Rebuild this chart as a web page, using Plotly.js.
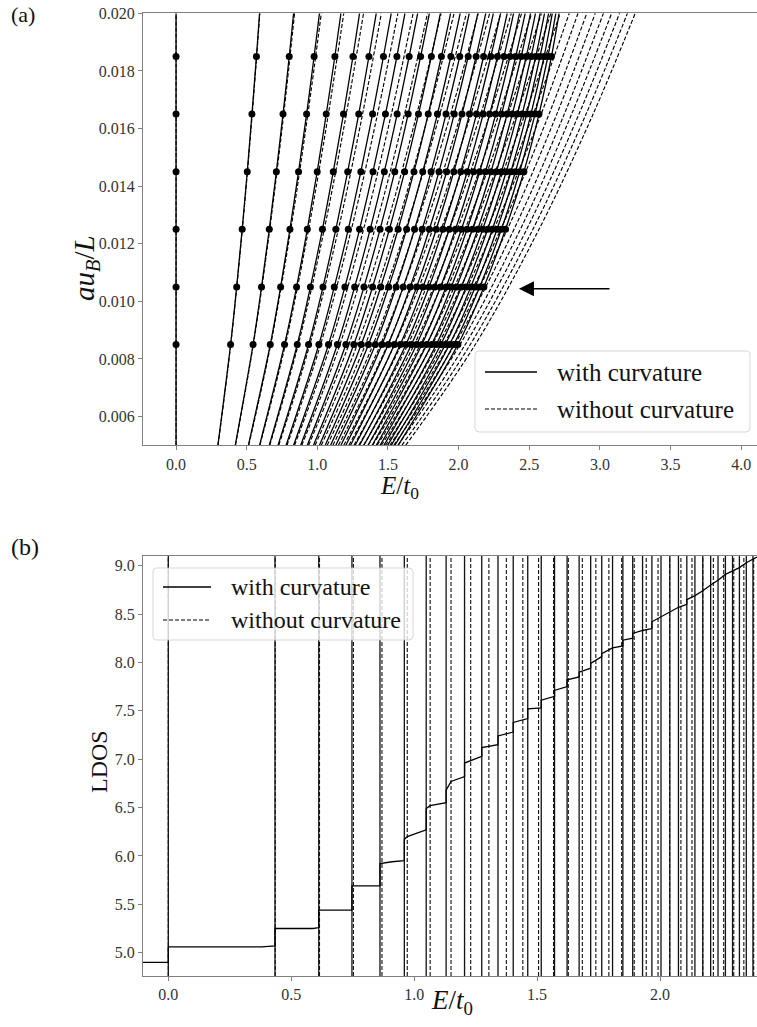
<!DOCTYPE html>
<html><head><meta charset="utf-8">
<script src="https://cdn.plot.ly/plotly-3.0.1.min.js"></script>
<style>html,body{margin:0;padding:0;background:#fff}#chart{width:757px;height:1027px}</style>
</head><body><div id="chart"></div>
<script>
// ---------- Panel (a): Landau levels vs a u_B / L ----------
// "with curvature" curves: E/t0 of levels n = 0..30 at each field value
const solidFields = [0.005, 0.0085, 0.0105, 0.0125, 0.0145, 0.0165, 0.0185, 0.020];
const solidE_0050 = [0,0.296,0.419,0.512,0.591,0.660,0.722,0.779,0.832,0.882,0.929,0.973,1.015,1.056,1.094,1.131,1.167,1.202,1.235,1.268,1.299,1.330,1.359,1.388,1.417,1.444,1.471,1.497,1.523,1.548,1.572];
const solidE_0085 = [0,0.386,0.545,0.667,0.768,0.858,0.938,1.011,1.079,1.142,1.202,1.258,1.311,1.362,1.411,1.458,1.502,1.545,1.587,1.627,1.666,1.703,1.740,1.775,1.809,1.842,1.874,1.906,1.936,1.966,1.995];
const solidE_0105 = [0,0.429,0.605,0.740,0.853,0.951,1.040,1.120,1.195,1.264,1.330,1.391,1.449,1.505,1.558,1.608,1.657,1.703,1.748,1.791,1.832,1.872,1.911,1.948,1.985,2.020,2.053,2.086,2.118,2.149,2.179];
const solidE_0125 = [0,0.468,0.660,0.806,0.929,1.036,1.131,1.219,1.299,1.374,1.444,1.510,1.572,1.632,1.688,1.742,1.793,1.842,1.889,1.934,1.978,2.020,2.060,2.098,2.136,2.171,2.206,2.239,2.272,2.303,2.332];
const solidE_0145 = [0,0.504,0.710,0.867,0.999,1.113,1.215,1.308,1.394,1.474,1.548,1.618,1.684,1.746,1.805,1.861,1.915,1.966,2.015,2.061,2.106,2.149,2.190,2.229,2.267,2.303,2.337,2.370,2.402,2.432,2.462];
const solidE_0165 = [0,0.537,0.757,0.924,1.063,1.185,1.293,1.391,1.482,1.565,1.643,1.716,1.785,1.850,1.911,1.969,2.024,2.077,2.127,2.174,2.220,2.263,2.304,2.343,2.380,2.416,2.450,2.482,2.512,2.541,2.569];
const solidE_0185 = [0,0.569,0.801,0.977,1.124,1.252,1.365,1.468,1.563,1.650,1.731,1.807,1.878,1.945,2.008,2.068,2.124,2.177,2.228,2.275,2.321,2.364,2.404,2.443,2.479,2.513,2.546,2.576,2.605,2.632,2.657];
const solidE_0200 = [0,0.591,0.832,1.015,1.167,1.299,1.417,1.523,1.620,1.710,1.793,1.871,1.943,2.011,2.075,2.136,2.192,2.246,2.297,2.344,2.389,2.431,2.471,2.509,2.544,2.577,2.608,2.637,2.663,2.688,2.711];
// rows that carry the computed points (dots)
const dotRowIndex = [1, 2, 3, 4, 5, 6];

// "without curvature" curves: E/t0 of levels n = 0..30
const dashedFields = [0.005, 0.0085, 0.0125, 0.0165, 0.020];
const dashedE_0050 = [0,0.297,0.420,0.514,0.593,0.663,0.727,0.785,0.839,0.890,0.938,0.984,1.028,1.070,1.110,1.149,1.187,1.223,1.259,1.293,1.327,1.359,1.391,1.423,1.453,1.483,1.513,1.541,1.570,1.598,1.625];
const dashedE_0085 = [0,0.387,0.547,0.670,0.774,0.865,0.947,1.023,1.094,1.160,1.223,1.283,1.340,1.395,1.447,1.498,1.547,1.595,1.641,1.686,1.730,1.772,1.814,1.855,1.895,1.934,1.972,2.010,2.047,2.083,2.118];
const dashedE_0125 = [0,0.469,0.663,0.812,0.938,1.049,1.149,1.241,1.327,1.407,1.483,1.556,1.625,1.691,1.755,1.817,1.876,1.934,1.990,2.045,2.098,2.149,2.200,2.249,2.298,2.345,2.392,2.437,2.482,2.526,2.569];
const dashedE_0165 = [0,0.539,0.762,0.933,1.078,1.205,1.320,1.426,1.524,1.617,1.704,1.787,1.867,1.943,2.016,2.087,2.156,2.222,2.286,2.349,2.410,2.470,2.528,2.584,2.640,2.695,2.748,2.800,2.852,2.902,2.952];
const dashedE_0200 = [0,0.593,0.839,1.028,1.187,1.327,1.453,1.570,1.678,1.780,1.876,1.968,2.055,2.139,2.220,2.298,2.373,2.446,2.517,2.586,2.653,2.719,2.783,2.845,2.907,2.967,3.025,3.083,3.139,3.195,3.250];

const arrowTarget = {E: 2.427, field: 0.01044};

// ---------- Panel (b): LDOS ----------
const levelsWithCurv = [0,0.434,0.612,0.747,0.861,0.960,1.049,1.130,1.205,1.275,1.341,1.403,1.462,1.517,1.571,1.622,1.671,1.718,1.763,1.807,1.849,1.889,1.929,1.967,2.004,2.040,2.075,2.109,2.142,2.174,2.206,2.236,2.266,2.295,2.323,2.351,2.378];
const levelsNoCurv = [0,0.435,0.615,0.753,0.869,0.972,1.065,1.150,1.230,1.304,1.375,1.442,1.506,1.567,1.627,1.684,1.739,1.792,1.844,1.895,1.944,1.992,2.039,2.085,2.130,2.174,2.217,2.259,2.300,2.341,2.381];
const ldosE = [-0.103,0,0,0.38,0.434,0.434,0.59,0.612,0.612,0.747,0.747,0.861,0.861,0.91,0.960,0.960,0.972,1.049,1.049,1.065,1.130,1.130,1.150,1.205,1.205,1.275,1.275,1.341,1.341,1.403,1.403,1.462,1.462,1.517,1.517,1.571,1.571,1.622,1.622,1.671,1.671,1.718,1.718,1.763,1.763,1.807,1.849,1.849,1.889,1.889,1.929,1.967,1.967,2.004,2.040,2.075,2.109,2.109,2.142,2.174,2.206,2.236,2.266,2.295,2.323,2.351,2.394];
const ldosVal = [4.90,4.90,5.06,5.06,5.07,5.25,5.25,5.26,5.44,5.44,5.69,5.69,5.92,5.94,5.95,6.17,6.20,6.27,6.49,6.52,6.55,6.68,6.77,6.82,6.96,7.03,7.12,7.15,7.24,7.28,7.38,7.42,7.52,7.53,7.61,7.65,7.71,7.75,7.82,7.85,7.90,7.94,7.99,8.06,8.09,8.15,8.17,8.23,8.25,8.30,8.33,8.35,8.42,8.47,8.52,8.57,8.60,8.65,8.69,8.74,8.80,8.85,8.91,8.95,8.98,9.03,9.09];

// ---------- ticks ----------
const tickA_x = [0,0.5,1.0,1.5,2.0,2.5,3.0,3.5,4.0];
const tickA_y = [0.006,0.008,0.010,0.012,0.014,0.016,0.018,0.020];
const tickB_x = [0,0.5,1.0,1.5,2.0];
const tickB_y = [5.0,5.5,6.0,6.5,7.0,7.5,8.0,8.5,9.0];

// ---------- build ----------
const W = 757, H = 1027;
const px = v => v / W, py = v => 1 - v / H;
const solidRows = [solidE_0050, solidE_0085, solidE_0105, solidE_0125, solidE_0145, solidE_0165, solidE_0185, solidE_0200];
const dashedRows = [dashedE_0050, dashedE_0085, dashedE_0125, dashedE_0165, dashedE_0200];

function curveTrace(rows, fields) {
  const x = [], y = [];
  for (let n = 0; n < rows[0].length; n++) {
    for (let k = 0; k < rows.length; k++) { x.push(rows[k][n]); y.push(fields[k]); }
    x.push(null); y.push(null);
  }
  return {x, y};
}
const sc = curveTrace(solidRows, solidFields);
const dc = curveTrace(dashedRows, dashedFields);
const dotX = [], dotY = [];
dotRowIndex.forEach(k => solidRows[k].forEach(e => { dotX.push(e); dotY.push(solidFields[k]); }));

const FONT = 'Liberation Serif, DejaVu Serif, serif';
const traces = [
  {x: sc.x, y: sc.y, mode: 'lines', line: {color: '#000', width: 1.3, shape: 'spline'}, xaxis: 'x', yaxis: 'y', hoverinfo: 'skip', showlegend: false, name: 'with curvature'},
  {x: dc.x, y: dc.y, mode: 'lines', line: {color: '#000', width: 1.15, dash: '4px,2px', shape: 'spline'}, xaxis: 'x', yaxis: 'y', hoverinfo: 'skip', showlegend: false, name: 'without curvature'},
  {x: dotX, y: dotY, mode: 'markers', marker: {color: '#000', size: 7}, xaxis: 'x', yaxis: 'y', hoverinfo: 'skip', showlegend: false},
  {x: ldosE, y: ldosVal, mode: 'lines', line: {color: '#000', width: 1.3}, xaxis: 'x2', yaxis: 'y2', hoverinfo: 'skip', showlegend: false, name: 'LDOS'}
];

const shapes = [];
levelsWithCurv.forEach(e => shapes.push({type: 'line', xref: 'x2', yref: 'y2 domain', x0: e, x1: e, y0: 0, y1: 1, layer: 'below', line: {color: '#111', width: 1.3}}));
levelsNoCurv.forEach(e => shapes.push({type: 'line', xref: 'x2', yref: 'y2 domain', x0: e, x1: e, y0: 0, y1: 1, layer: 'below', line: {color: '#111', width: 1.1, dash: '4px,2px'}}));

function roundRect(x0, y0, x1, y1, r) {
  const X = v => px(v).toFixed(5), Y = v => py(v).toFixed(5);
  return `M${X(x0+r)},${Y(y0)} L${X(x1-r)},${Y(y0)} Q${X(x1)},${Y(y0)} ${X(x1)},${Y(y0+r)} L${X(x1)},${Y(y1-r)} Q${X(x1)},${Y(y1)} ${X(x1-r)},${Y(y1)} L${X(x0+r)},${Y(y1)} Q${X(x0)},${Y(y1)} ${X(x0)},${Y(y1-r)} L${X(x0)},${Y(y0+r)} Q${X(x0)},${Y(y0)} ${X(x0+r)},${Y(y0)} Z`;
}
const annotations = [];
function legendBox(x0, y0, x1, y1, sx0, sx1, ySolid, yDash, tx, fs) {
  shapes.push({type: 'path', xref: 'paper', yref: 'paper', path: roundRect(x0, y0, x1, y1, 4), layer: 'above', fillcolor: 'rgba(255,255,255,0.8)', line: {color: 'rgba(204,204,204,0.8)', width: 1}});
  shapes.push({type: 'line', xref: 'paper', yref: 'paper', x0: px(sx0), x1: px(sx1), y0: py(ySolid), y1: py(ySolid), layer: 'above', line: {color: '#000', width: 1.3}});
  shapes.push({type: 'line', xref: 'paper', yref: 'paper', x0: px(sx0), x1: px(sx1), y0: py(yDash), y1: py(yDash), layer: 'above', line: {color: '#000', width: 1.1, dash: '4px,2px'}});
  annotations.push({xref: 'paper', yref: 'paper', x: px(tx), y: py(ySolid), xanchor: 'left', yanchor: 'middle', showarrow: false, text: 'with curvature', font: {family: FONT, size: fs, color: '#111'}});
  annotations.push({xref: 'paper', yref: 'paper', x: px(tx), y: py(yDash), xanchor: 'left', yanchor: 'middle', showarrow: false, text: 'without curvature', font: {family: FONT, size: fs, color: '#111'}});
}
legendBox(475, 351, 750, 432, 485, 537, 372, 409, 555, 25);
legendBox(153, 568, 413, 640, 163, 211, 587, 620, 229, 24);

const lab = (x, y, text, size, angle) => annotations.push({xref: 'paper', yref: 'paper', x: px(x), y: py(y), xanchor: 'center', yanchor: 'middle', showarrow: false, text, textangle: angle || 0, font: {family: FONT, size, color: '#111'}});
lab(23, 14, '(a)', 22);
lab(25, 547, '(b)', 24);
lab(86, 268, '<i>au</i><sub><i>B</i></sub>/<i>L</i>', 29, -90);
lab(399, 487, '<i>E</i>/<i>t</i><sub>0</sub>', 25);
lab(99, 762, 'LDOS', 24, -90);
lab(452, 1002, '<i>E</i>/<i>t</i><sub>0</sub>', 27);
annotations.push({xref: 'x', yref: 'y', x: arrowTarget.E, y: arrowTarget.field, ax: 92, ay: 0, text: '', showarrow: true, arrowhead: 2, arrowsize: 2, arrowwidth: 1.5, arrowcolor: '#000'});

const axBase = {showgrid: false, zeroline: false, showline: true, linecolor: '#808080', linewidth: 1, ticks: 'outside', ticklen: 4, tickwidth: 1, tickcolor: '#808080', tickfont: {family: FONT, size: 16, color: '#333'}, fixedrange: true};
const fmt = (arr, d) => arr.map(v => v.toFixed(d));
const layout = {
  width: W, height: H, margin: {l: 0, r: 0, t: 0, b: 0}, paper_bgcolor: '#fff', plot_bgcolor: '#fff', showlegend: false,
  xaxis: Object.assign({}, axBase, {domain: [px(143), 1], range: [-0.234, 4.112], tickvals: tickA_x, ticktext: fmt(tickA_x, 1), anchor: 'y', mirror: true}),
  yaxis: Object.assign({}, axBase, {domain: [py(445.3), py(13.3)], range: [0.005, 0.020], tickvals: tickA_y, ticktext: fmt(tickA_y, 3), anchor: 'x'}),
  xaxis2: Object.assign({}, axBase, {domain: [px(143), 1], range: [-0.1029, 2.3945], tickvals: tickB_x, ticktext: fmt(tickB_x, 1), anchor: 'y2', mirror: true}),
  yaxis2: Object.assign({}, axBase, {domain: [py(976), py(556)], range: [4.759, 9.100], tickvals: tickB_y, ticktext: fmt(tickB_y, 1), anchor: 'x2'}),
  shapes, annotations
};
Plotly.newPlot('chart', traces, layout, {staticPlot: true, displayModeBar: false});
</script></body></html>
